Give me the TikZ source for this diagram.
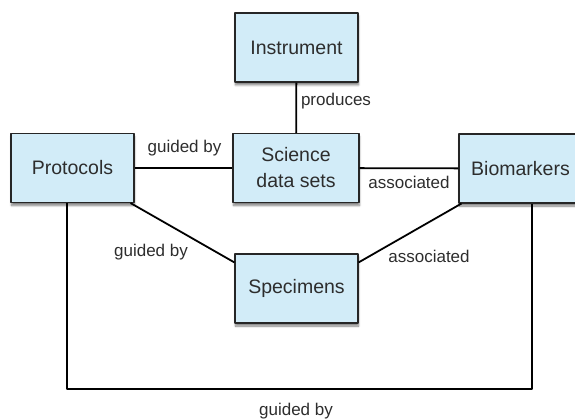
\documentclass[tikz,border=0pt]{standalone}
\usepackage{fontspec}
\setmainfont{Liberation Sans}
\usetikzlibrary{shadows.blur}
\definecolor{boxblue}{RGB}{210,236,248}
\definecolor{txtgray}{RGB}{45,45,45}
\begin{document}
\begin{tikzpicture}[x=1pt,y=-1pt,line join=round]
\tikzstyle{entity} = [draw=black!85,line width=1.1pt,fill=boxblue,text=txtgray,
  minimum width=123pt,minimum height=69pt,inner sep=0pt,align=center,
  font=\fontsize{19.5}{26}\selectfont,
  blur shadow={shadow xshift=0.5pt,shadow yshift=-3pt,shadow blur steps=6,shadow opacity=50}]
\tikzstyle{link} = [line width=1.8pt,black]
\tikzstyle{rel} = [text=txtgray,font=\fontsize{17}{20}\selectfont,inner sep=0pt]
\useasboundingbox (0,0) rectangle (575,419);
%les entités
\node[entity] (instrument) at (296.5,47.5) {Instrument};
\node[entity] (protocols) at (72.5,168) {Protocols};
\node[entity,minimum width=126pt] (science) at (296,168) {Science\\data sets};
\node[entity] (biomarkers) at (520.5,168.5) {Biomarkers};
\node[entity] (specimens) at (296.5,288.5) {Specimens};
%coins du lien du bas
\coordinate (lowleft) at (67,389);
\coordinate (lowright) at (532,389);
%les liens
\draw[link] (instrument) -- (science);
\draw[link] (protocols) -- (science);
\draw[link] (science) -- (biomarkers);
\draw[link] ([xshift=-4pt]protocols.south east) -- ([yshift=-9pt]specimens.north west);
\draw[link] ([xshift=3pt]biomarkers.south west) -- ([yshift=-9pt]specimens.north east);
\draw[link] (protocols.south -| lowleft) -- (lowleft) -- (lowright) -- (lowright |- biomarkers.south);
%les étiquettes
\node[rel] (produces) at (336,101) {produces};
\node[rel] (guidedtop) at (184.5,148) {guided by};
\node[rel] (assoctop) at (409,182) {associated};
\node[rel] (guidedleft) at (151,252) {guided by};
\node[rel] (assocright) at (429,256) {associated};
\node[rel] (guidedlow) at (296,411) {guided by};
\end{tikzpicture}
\end{document}
